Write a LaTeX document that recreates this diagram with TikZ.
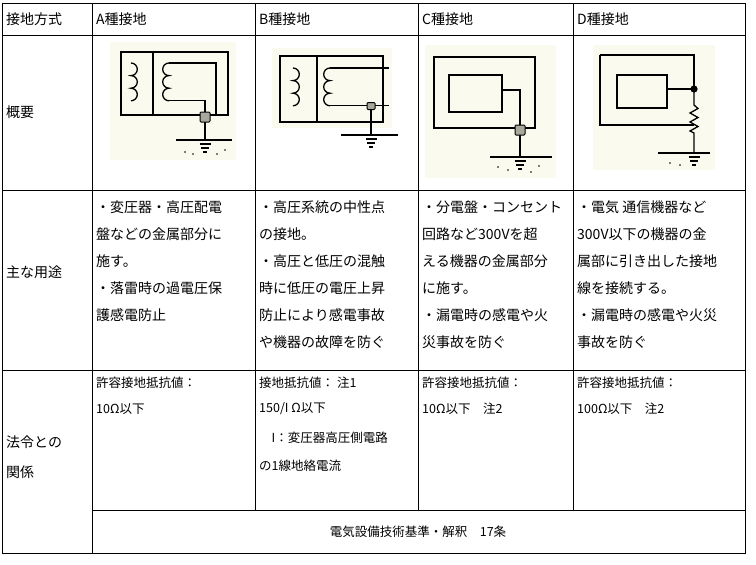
\documentclass[tikz,border=0pt]{standalone}
\usepackage{fontspec}
\setmainfont{Noto Sans CJK JP}
\usetikzlibrary{positioning}
\definecolor{cream}{HTML}{FBFAEE}
\definecolor{boxgray}{HTML}{A8A89C}
\tikzset{
  cell/.style={anchor=west,inner sep=0pt,font=\fontsize{14}{14}\selectfont},
  small/.style={anchor=west,inner sep=0pt,font=\fontsize{12.5}{13}\selectfont},
  wire/.style={line width=1.3pt},
  gnd/.style={fill=boxgray,draw=black,line width=1pt,rounded corners=1pt}
}
% ground symbol at (#1,#2)
\newcommand{\gndsym}[2]{%
  \draw[wire] (#1-5.5,#2) -- (#1+5.5,#2);
  \draw[wire] (#1-4,#2+4) -- (#1+4,#2+4);
  \draw[wire] (#1-2,#2+8) -- (#1+2,#2+8);}
\newcommand{\coilR}[2]{\draw[wire] (#1,#2) arc (-90:90:6.3) arc (-90:90:6.3) arc (-90:90:6.3);}
\newcommand{\coilL}[2]{\draw[wire] (#1,#2) arc (-90:-270:6.3) arc (-90:-270:6.3) arc (-90:-270:6.3);}
\begin{document}
\begin{tikzpicture}[x=1pt,y=-1pt]
\useasboundingbox (0,0) rectangle (756,565);
% table lines
\draw[line width=0.8pt] (2,3) rectangle (745,553);
\foreach \y in {35,190,370} \draw[line width=0.8pt] (2,\y) -- (745,\y);
\draw[line width=0.8pt] (92,510) -- (745,510);
\foreach \x in {255,418,573} \draw[line width=0.8pt] (\x,3) -- (\x,510);
\draw[line width=0.8pt] (92,3) -- (92,553);
% headers
\node[cell] (h0) at (6,19) {接地方式};
\node[cell] (ha) at (96,19) {A種接地};
\node[cell] (hb) at (259,19) {B種接地};
\node[cell] (hc) at (422,19) {C種接地};
\node[cell] (hd) at (577,19) {D種接地};
\node[cell] (r1) at (6,112) {概要};
\node[cell] (r2) at (6,272) {主な用途};
\node[cell] (r3) at (6,442) {法令との};
\node[cell] (r3b) at (6,472) {関係};
% uses
\foreach \t [count=\i] in {・変圧器・高圧配電,盤などの金属部分に,施す。,・落雷時の過電圧保,護感電防止}
  \node[cell] (ua\i) at (96,180+27*\i) {\t};
\foreach \t [count=\i] in {・高圧系統の中性点,の接地。,・高圧と低圧の混触,時に低圧の電圧上昇,防止により感電事故,や機器の故障を防ぐ}
  \node[cell] (ub\i) at (259,180+27*\i) {\t};
\foreach \t [count=\i] in {・分電盤・コンセント,回路など300Vを超,える機器の金属部分,に施す。,・漏電時の感電や火,災事故を防ぐ}
  \node[cell] (uc\i) at (422,180+27*\i) {\t};
\foreach \t [count=\i] in {・電気 通信機器など,300V以下の機器の金,属部に引き出した接地,線を接続する。,・漏電時の感電や火災,事故を防ぐ}
  \node[cell] (ud\i) at (577,180+27*\i) {\t};
% law
\node[small] (la1) at (96,383) {許容接地抵抗値：};
\node[small] (la2) at (96,409) {10Ω以下};
\node[small] (lb1) at (259,383) {接地抵抗値： 注1};
\node[small] (lb2) at (259,409) {150/I Ω以下};
\node[small] (lb3) at (259,438) {　I：変圧器高圧側電路};
\node[small] (lb4) at (259,466) {の1線地絡電流};
\node[small] (lc1) at (422,383) {許容接地抵抗値：};
\node[small] (lc2) at (422,409) {10Ω以下　注2};
\node[small] (ld1) at (577,383) {許容接地抵抗値：};
\node[small] (ld2) at (577,409) {100Ω以下　注2};
\node[small,anchor=center] (base) at (418,532) {電気設備技術基準・解釈　17条};
% A
\fill[cream] (110,42) rectangle (236,160);
\draw[wire] (121,52) rectangle (228,115) (153,52) -- (153,115);
\coilR{131}{63}
\coilL{169}{63}
\draw[wire] (169,63) -- (216,63) -- (216,115);
\draw[wire] (169,100.8) -- (205,100.8) -- (205,140);
\draw[gnd] (200,112) rectangle (210,122);
\draw[wire] (176,140) -- (232,140);
\gndsym{205}{144}
\foreach \p in {(185,152),(193,154),(217,154),(225,150)} \fill \p circle (0.8);
% B
\fill[cream] (272,48) rectangle (392,128);
\draw[line width=1.8pt] (280,56) rectangle (383,122);
\draw[wire] (317,56) -- (317,122);
\coilR{293}{68}
\coilL{330}{68}
\draw[wire] (330,68) -- (389,68);
\draw[wire] (330,105.8) -- (389,105.8);
\draw[wire] (371,106) -- (371,135);
\draw[gnd] (367,102.5) rectangle (375,109.5);
\draw[wire] (341,135) -- (398,135);
\gndsym{371}{139}
% C
\fill[cream] (425,45) rectangle (556,178);
\draw[wire] (434,57) rectangle (535,128);
\draw[wire] (449,75) rectangle (502,112);
\draw[wire] (502,90) -- (520,90) -- (520,157);
\draw[gnd] (515,125) rectangle (525,135);
\draw[wire] (490,157) -- (552,157);
\gndsym{520}{161}
\foreach \p in {(498,167),(508,170),(531,172),(539,166)} \fill \p circle (0.8);
% D
\fill[cream] (593,45) rectangle (715,170);
\draw[wire] (600,55) -- (694,55) -- (694,89);
\draw[wire] (600,55) -- (600,125) -- (694,125);
\draw[wire] (617,75) rectangle (667,108);
\draw[wire] (667,89) -- (694,89);
\fill (694,89) circle (3.6);
\draw[wire] (694,89) -- (694,105) -- (698,108.5) -- (690,113) -- (698,117.5) -- (690,122) -- (698,126.5) -- (690,131) -- (694,133) -- (694,153);
\draw[wire] (658,153) -- (710,153);
\gndsym{694}{157}
\foreach \p in {(670,163),(680,165)} \fill \p circle (0.8);
\end{tikzpicture}
\end{document}
